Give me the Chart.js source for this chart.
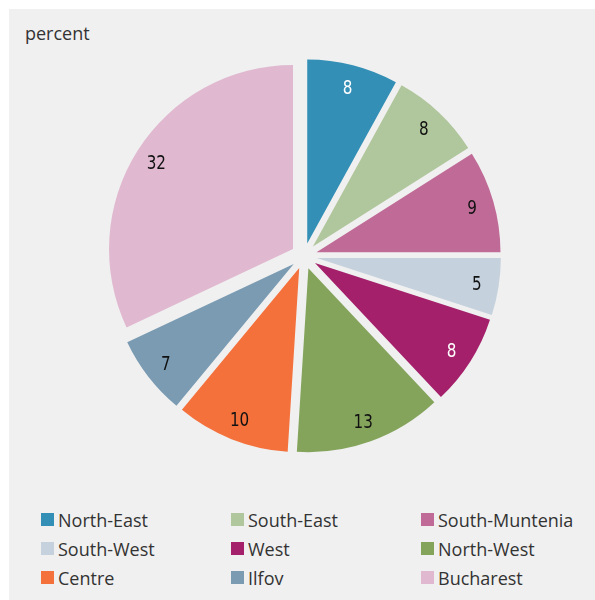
<!DOCTYPE html>
<html>
<head>
<meta charset="utf-8">
<script src="https://cdn.jsdelivr.net/npm/chart.js@4"></script>
<style>
  body { margin: 0; background: #fff; }
  #box {
    position: absolute; left: 9px; top: 9px;
    width: 586px; height: 591px;
    background: #f0f0f0;
    font-family: 'Open Sans', sans-serif;
    color: #333;
  }
  #unit { position: absolute; left: 16px; top: 12px; font-size: 18px; }
  #pieWrap { position: absolute; left: 0; top: 0; width: 586px; height: 480px; }
  #legend {
    position: absolute; left: 32px; top: 496px;
    display: grid; grid-template-columns: 190px 190px 190px;
    grid-auto-rows: 29px; font-size: 18px;
  }
  .item { display: flex; align-items: center; }
  .swatch { width: 13px; height: 13px; margin-right: 4px; }
</style>
</head>
<body>
<div id="box">
  <div id="unit">percent</div>
  <div id="pieWrap"><canvas id="regionPie" width="586" height="480"></canvas></div>
  <div id="legend"></div>
</div>
<script>
// share by development region
const regions = ['North-East', 'South-East', 'South-Muntenia', 'South-West', 'West',
                 'North-West', 'Centre', 'Ilfov', 'Bucharest'];
const shares = [8, 8, 9, 5, 8, 13, 10, 7, 32];
const colors = ['#338fb6', '#b0c69c', '#c06b97', '#c5d1dc', '#a4206b',
                '#84a45c', '#f4713c', '#7a9bb2', '#e0b9d0'];
const labelColors = ['#fff', '#111', '#111', '#111', '#fff', '#111', '#111', '#111', '#111'];

// how far every slice is pulled out from the centre, px
const explode = 13;

// built-in `offset` also grows the radius of narrow slices, so move the
// arc centres instead and keep one radius for all of them
const explodeSlices = {
  id: 'explodeSlices',
  beforeDatasetsDraw(chart) {
    const area = chart.chartArea;
    const cx = (area.left + area.right) / 2;
    const cy = (area.top + area.bottom) / 2;
    chart.getDatasetMeta(0).data.forEach(arc => {
      const mid = (arc.startAngle + arc.endAngle) / 2;
      arc.x = cx + Math.cos(mid) * explode;
      arc.y = cy + Math.sin(mid) * explode;
    });
  }
};

// value labels near the outer rim, squeezed sideways for a condensed look
const sliceLabels = {
  id: 'sliceLabels',
  afterDatasetsDraw(chart) {
    const ctx = chart.ctx;
    chart.getDatasetMeta(0).data.forEach((arc, i) => {
      const mid = (arc.startAngle + arc.endAngle) / 2;
      const dist = arc.outerRadius * 0.88;
      const x = arc.x + Math.cos(mid) * dist;
      const y = arc.y + Math.sin(mid) * dist + 2;
      ctx.save();
      ctx.translate(x, y);
      ctx.scale(0.8, 1);
      ctx.font = '500 19px "DejaVu Sans", sans-serif';
      ctx.textAlign = 'center';
      ctx.textBaseline = 'middle';
      ctx.fillStyle = labelColors[i];
      ctx.fillText(shares[i], 0, 0);
      ctx.restore();
    });
  }
};

new Chart(document.getElementById('regionPie'), {
  type: 'pie',
  data: {
    labels: regions,
    datasets: [{
      data: shares,
      backgroundColor: colors,
      borderWidth: 0
    }]
  },
  options: {
    responsive: false,
    animation: false,
    events: [],
    radius: 184,
    layout: { padding: { left: 4, top: 14 } },
    plugins: {
      legend: { display: false },
      tooltip: { enabled: false }
    }
  },
  plugins: [explodeSlices, sliceLabels]
});

// legend in three columns
const legend = document.getElementById('legend');
regions.forEach((name, i) => {
  const item = document.createElement('div');
  item.className = 'item';
  item.innerHTML = '<span class="swatch" style="background:' + colors[i] + '"></span>' + name;
  legend.appendChild(item);
});
</script>
</body>
</html>
